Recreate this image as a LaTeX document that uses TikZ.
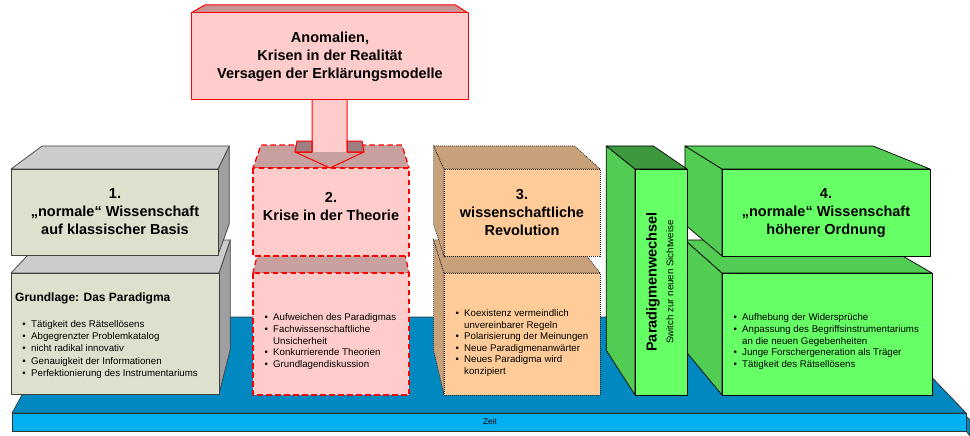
\documentclass[tikz,border=0pt]{standalone}
\usepackage{fontspec}
\setmainfont{Liberation Sans}
\usetikzlibrary{calc}

\definecolor{onefront}{HTML}{DDE0CC}
\definecolor{onetop}{HTML}{CCCCCC}
\definecolor{oneside}{HTML}{A0A0A0}
\definecolor{onedge}{HTML}{404040}
\definecolor{pinkfront}{HTML}{FFCCCC}
\definecolor{pinktop}{HTML}{C9A0A0}
\definecolor{pinkdark}{HTML}{9E7E80}
\definecolor{anotop}{HTML}{C89494}
\definecolor{orfront}{HTML}{FFCC99}
\definecolor{ordark}{HTML}{C8A07A}
\definecolor{grfront}{HTML}{66FF66}
\definecolor{grside}{HTML}{52CC52}
\definecolor{grdark}{HTML}{3D993D}
\definecolor{bltop}{HTML}{0088C0}
\definecolor{blfront}{HTML}{00B0F0}

% perspective: vanishing point and depth factor of the back faces
\def\dk{0.904}

% box with front rectangle (x1,y1)-(x2,y2); side face drawn on the side facing away from the vanishing point
\newcommand\persbox[7]{%
  \ifdim #3pt<336pt
    \path[#7] (#3,#2) -- (#3,#4) -- ($(vp)!\dk!(#3,#4)$) -- ($(vp)!\dk!(#3,#2)$) -- cycle;
  \fi
  \ifdim #1pt>336pt
    \path[#7] (#1,#2) -- (#1,#4) -- ($(vp)!\dk!(#1,#4)$) -- ($(vp)!\dk!(#1,#2)$) -- cycle;
  \fi
  \path[#6] (#1,#2) -- (#3,#2) -- ($(vp)!\dk!(#3,#2)$) -- ($(vp)!\dk!(#1,#2)$) -- cycle;
  \path[#5] (#1,#2) rectangle (#3,#4);
}

\newcommand\blist[1]{\begin{tabular}[t]{@{}l@{\hspace{5.3pt}}l@{}}#1\end{tabular}}
\newcommand\bi{\textbullet &}

\tikzset{
  greyedge/.style={draw=onedge, line width=0.7pt, line join=round},
  b1front/.style={fill=onefront, greyedge},
  b1top/.style={fill=onetop, greyedge},
  b1side/.style={fill=oneside, greyedge},
  rededge/.style={draw=red, line width=1.3pt, dash pattern=on 5.5pt off 3.5pt, line join=round},
  b2front/.style={fill=pinkfront, rededge},
  b2top/.style={fill=pinktop, rededge},
  dotedge/.style={draw=black!85, line width=0.7pt, dash pattern=on 1pt off 1pt},
  b3front/.style={fill=orfront, dotedge},
  b3dark/.style={fill=ordark, dotedge},
  gredge/.style={draw=black, line width=0.7pt, line join=round},
  b4front/.style={fill=grfront, gredge},
  b4side/.style={fill=grside, gredge},
  b4dark/.style={fill=grdark, gredge},
  anoedge/.style={draw=red, line width=1pt, line join=round},
  anofront/.style={fill=pinkfront, anoedge},
  anotopface/.style={fill=anotop, anoedge},
  heading/.style={font=\fontsize{14.5}{18}\bfseries\selectfont, align=center, inner sep=0pt},
  body/.style={font=\fontsize{9.7}{11.8}\selectfont, anchor=base west, inner sep=0pt},
}

\begin{document}
\begin{tikzpicture}[x=1pt, y=-1pt]
\useasboundingbox (0,0) rectangle (970,436);
\coordinate (vp) at (336,-71);

% time base
\path[fill=bltop, draw=black!80, line width=0.6pt, line join=round]
  (874,317) -- (966,413) -- (966,431) -- (970,436) -- (970,420) -- cycle;
\path[fill=bltop, draw=black!80, line width=0.6pt, line join=round]
  (12,413) -- (65,317) -- (874,317) -- (966,413) -- cycle;
\path[fill=blfront, draw=black!80, line width=0.6pt] (12,413) rectangle (966,431);
\node[font=\fontsize{8.3}{10}\selectfont, inner sep=0pt] (zeit) at (490,422) {Zeit};

% column 1
\persbox{11}{273}{219}{394}{b1front}{b1top}{b1side}
\persbox{11}{169}{218}{255}{b1front}{b1top}{b1side}
% column 2
\persbox{253}{273}{409}{395}{b2front}{b2top}{b2top}
\persbox{253}{168}{409}{256}{b2front}{b2top}{b2top}
% column 3
\persbox{444}{273}{600}{395}{b3front}{b3dark}{b3dark}
\persbox{444}{169}{600}{256}{b3front}{b3dark}{b3dark}
% column 4
\persbox{722}{273}{932}{395}{b4front}{b4side}{b4side}
\persbox{722}{169}{930}{256}{b4front}{b4side}{b4side}
\persbox{635}{169}{687}{395}{b4front}{b4dark}{b4side}

% anomalies box
\persbox{191}{13}{468}{100}{anofront}{anotopface}{anotopface}

% block arrow into column 2
\fill[pinkfront] (312,100) -- (312,152) -- (347,152) -- (347,100) -- cycle;
\fill[pinktop] (295,152) -- (330,168) -- (364,152) -- cycle;
\path[fill=pinkdark, anoedge] (295,152) -- (297,141) -- (312,141) -- (312,152) -- cycle;
\path[fill=pinkdark, anoedge] (347,152) -- (347,141) -- (362,141) -- (364,152) -- cycle;
\draw[anoedge] (312,100) -- (312,152) -- (295,152) -- (330,168) -- (364,152) -- (347,152) -- (347,100);

% headings
\node[heading] (ano) at (330,57) {Anomalien,\\Krisen in der Realität\\Versagen der Erklärungsmodelle};
\node[heading] (h1) at (115,212) {1.\\„normale“ Wissenschaft\\auf klassischer Basis};
\node[heading] (h2) at (331,206.5) {2.\\Krise in der Theorie};
\node[heading] (h3) at (522,212.5) {3.\\wissenschaftliche\\Revolution};
\node[heading] (h4) at (826,213) {4.\\„normale“ Wissenschaft\\höherer Ordnung};

% vertical label of the paradigm shift
\node[font=\fontsize{14.5}{18}\bfseries\selectfont, rotate=90, inner sep=0pt] (pw) at (653,282) {Paradigmenwechsel};
\node[font=\fontsize{9.7}{12}\selectfont, rotate=90, inner sep=0pt] (pws) at (670,282) {Switch zur neuen Sichtweise};

% body texts
\node[font=\fontsize{12}{14}\bfseries\selectfont, anchor=base west, inner sep=0pt] (g1) at (15,301.5) {Grundlage: Das Paradigma};
\node[body, font=\fontsize{9.7}{12.2}\selectfont] (l1) at (22.3,327.5) {\blist{%
  \bi Tätigkeit des Rätsellösens\\
  \bi Abgegrenzter Problemkatalog\\
  \bi nicht radikal innovativ\\
  \bi Genauigkeit der Informationen\\
  \bi Perfektionierung des Instrumentariums}};
\node[body] (l2) at (264.3,320.5) {\blist{%
  \bi Aufweichen des Paradigmas\\
  \bi Fachwissenschaftliche\\
  & Unsicherheit\\
  \bi Konkurrierende Theorien\\
  \bi Grundlagendiskussion}};
\node[body, font=\fontsize{9.7}{11.5}\selectfont] (l3) at (455.3,316.5) {\blist{%
  \bi Koexistenz vermeindlich\\
  & unvereinbarer Regeln\\
  \bi Polarisierung der Meinungen\\
  \bi Neue Paradigmenanwärter\\
  \bi Neues Paradigma wird\\
  & konzipiert}};
\node[body] (l4) at (733.3,320.5) {\blist{%
  \bi Aufhebung der Widersprüche\\
  \bi Anpassung des Begriffsinstrumentariums\\
  & an die neuen Gegebenheiten\\
  \bi Junge Forschergeneration als Träger\\
  \bi Tätigkeit des Rätsellösens}};
\end{tikzpicture}
\end{document}
